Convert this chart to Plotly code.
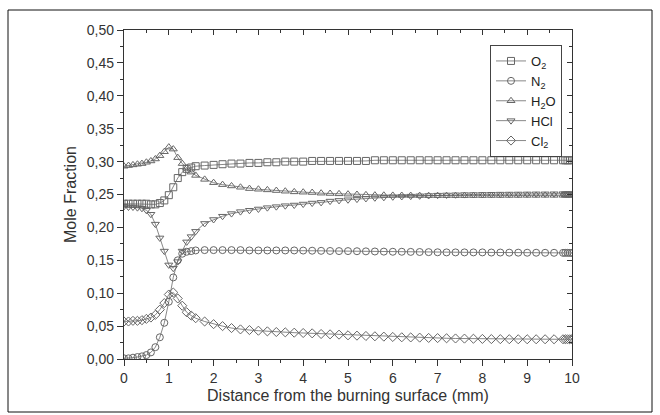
import plotly.graph_objects as go

x = [0.0, 0.1, 0.2, 0.3, 0.4, 0.5, 0.6, 0.7, 0.8, 0.9, 1.0, 1.1, 1.2, 1.3, 1.4, 1.5, 1.6,
     1.8, 2.0, 2.2, 2.4, 2.6, 2.8, 3.0, 3.2, 3.4, 3.6, 3.8, 4.0, 4.2, 4.4, 4.6, 4.8, 5.0,
     5.2, 5.4, 5.6, 5.8, 6.0, 6.2, 6.4, 6.6, 6.8, 7.0, 7.2, 7.4, 7.6, 7.8, 8.0, 8.2, 8.4,
     8.6, 8.8, 9.0, 9.2, 9.4, 9.6, 9.8, 9.85, 9.9, 9.95, 10.0]

o2 = [0.236, 0.236, 0.236, 0.236, 0.236, 0.236, 0.235, 0.235, 0.237, 0.241, 0.249, 0.261, 0.275, 0.284, 0.289, 0.291, 0.293,
      0.294, 0.295, 0.296, 0.297, 0.297, 0.298, 0.298, 0.299, 0.299, 0.300, 0.300, 0.300, 0.301, 0.301, 0.301, 0.301, 0.301,
      0.301, 0.301, 0.302, 0.302, 0.302, 0.302, 0.302, 0.302, 0.302, 0.302, 0.302, 0.302, 0.302, 0.302, 0.302, 0.302, 0.302,
      0.302, 0.302, 0.302, 0.302, 0.302, 0.302, 0.302, 0.302, 0.302, 0.302, 0.302]

n2 = [0.001, 0.001, 0.002, 0.003, 0.004, 0.006, 0.010, 0.018, 0.033, 0.055, 0.087, 0.124, 0.150, 0.160, 0.163, 0.164, 0.165,
      0.1655, 0.1655, 0.1655, 0.1655, 0.1655, 0.165, 0.165, 0.165, 0.165, 0.165, 0.165, 0.1648, 0.1646, 0.1644, 0.1642, 0.164, 0.164,
      0.1638, 0.1636, 0.1634, 0.1632, 0.163, 0.163, 0.1628, 0.1626, 0.1624, 0.1622, 0.162, 0.162, 0.162, 0.162, 0.162, 0.1618, 0.1618,
      0.1616, 0.1616, 0.1615, 0.1615, 0.1614, 0.1614, 0.1613, 0.1613, 0.1613, 0.1612, 0.1612]

h2o = [0.293, 0.294, 0.295, 0.296, 0.297, 0.299, 0.301, 0.304, 0.309, 0.315, 0.322, 0.319, 0.306, 0.297, 0.290, 0.284, 0.279,
       0.273, 0.268, 0.265, 0.263, 0.261, 0.259, 0.258, 0.257, 0.256, 0.255, 0.254, 0.2535, 0.253, 0.252, 0.2515, 0.251, 0.2505,
       0.250, 0.2495, 0.249, 0.2488, 0.2486, 0.2485, 0.2484, 0.2483, 0.2482, 0.2482, 0.2482, 0.2482, 0.2482, 0.2483, 0.2483, 0.2484, 0.2484,
       0.2485, 0.2485, 0.2486, 0.2486, 0.2487, 0.2487, 0.2488, 0.2488, 0.2488, 0.2488, 0.2488]

hcl = [0.232, 0.231, 0.231, 0.230, 0.229, 0.226, 0.220, 0.205, 0.184, 0.164, 0.143, 0.138, 0.148, 0.164, 0.178, 0.186, 0.194,
       0.206, 0.212, 0.217, 0.221, 0.224, 0.226, 0.228, 0.230, 0.2315, 0.233, 0.234, 0.2355, 0.237, 0.238, 0.240, 0.241, 0.242,
       0.243, 0.244, 0.245, 0.2457, 0.2465, 0.247, 0.2475, 0.248, 0.2485, 0.249, 0.2493, 0.2496, 0.2499, 0.250, 0.2502, 0.2504, 0.2506,
       0.2507, 0.2508, 0.2509, 0.251, 0.251, 0.2511, 0.2512, 0.2512, 0.2512, 0.2512, 0.2512]

cl2 = [0.057, 0.057, 0.058, 0.058, 0.059, 0.061, 0.063, 0.067, 0.075, 0.085, 0.098, 0.101, 0.092, 0.081, 0.071, 0.066, 0.062,
       0.057, 0.053, 0.050, 0.047, 0.045, 0.044, 0.043, 0.042, 0.041, 0.0405, 0.040, 0.0395, 0.039, 0.038, 0.0375, 0.037, 0.036,
       0.0355, 0.035, 0.0345, 0.034, 0.0335, 0.033, 0.0328, 0.0325, 0.032, 0.0318, 0.0315, 0.0312, 0.031, 0.0308, 0.0305, 0.0303, 0.0302,
       0.0301, 0.030, 0.030, 0.030, 0.030, 0.030, 0.030, 0.030, 0.030, 0.030, 0.030]

series = [
    ("O<sub>2</sub>", o2, "square-open"),
    ("N<sub>2</sub>", n2, "circle-open"),
    ("H<sub>2</sub>O", h2o, "triangle-up-open"),
    ("HCl", hcl, "triangle-down-open"),
    ("Cl<sub>2</sub>", cl2, "diamond-open"),
]

FONT = "Liberation Sans, Arial, sans-serif"

fig = go.Figure()
for name, ys, sym in series:
    fig.add_trace(go.Scatter(
        x=x, y=ys, name=name, mode="lines+markers",
        line=dict(color="#555555", width=0.7),
        marker=dict(symbol=sym, size=7, color="#666666", line=dict(color="#666666", width=1)),
    ))

# invisible trace to enable the mirrored top/right axes
fig.add_trace(go.Scatter(x=[0, 10], y=[0, 0.5], xaxis="x2", yaxis="y2",
                         mode="markers", marker=dict(opacity=0), showlegend=False, hoverinfo="skip"))

L, R, T, B = 124, 572, 30, 359
W, H = 660, 415

axfont = dict(family=FONT, size=14, color="#333333")
titlefont = dict(family=FONT, size=16, color="#333333")

fig.update_layout(
    width=W, height=H,
    margin=dict(l=L, r=W - R, t=T, b=H - B),
    paper_bgcolor="white", plot_bgcolor="white",
    separators=",.",
    font=dict(family=FONT, color="#333333"),
    showlegend=True,
    legend=dict(
        x=(562 - L) / (R - L), y=(B - 45) / (B - T), xanchor="right", yanchor="top",
        bordercolor="#444444", borderwidth=1, bgcolor="white",
        font=dict(family=FONT, size=13, color="#222222"),
        itemwidth=30, tracegroupgap=0,
    ),
    xaxis=dict(
        range=[0, 10], dtick=1, tick0=0, showgrid=False, zeroline=False,
        showline=True, linecolor="#333333", linewidth=1.3,
        ticks="outside", ticklen=6, tickcolor="#333333", tickwidth=1,
        minor=dict(dtick=0.5, ticks="outside", ticklen=3, tickcolor="#333333", showgrid=False),
        tickfont=axfont,
        title=dict(text="Distance from the burning surface (mm)", font=titlefont, standoff=4),
    ),
    yaxis=dict(
        range=[0, 0.5], dtick=0.05, tick0=0, tickformat=".2f", showgrid=False, zeroline=False,
        showline=True, linecolor="#333333", linewidth=1.3,
        ticks="outside", ticklen=6, tickcolor="#333333", tickwidth=1,
        minor=dict(dtick=0.025, ticks="outside", ticklen=3, tickcolor="#333333", showgrid=False),
        tickfont=axfont,
        title=dict(text="Mole Fraction", font=titlefont, standoff=6),
    ),
    xaxis2=dict(
        overlaying="x", side="top", range=[0, 10], dtick=1, tick0=0, showticklabels=False,
        showgrid=False, zeroline=False, showline=True, linecolor="#333333", linewidth=1.3,
        ticks="inside", ticklen=5, tickcolor="#333333",
        minor=dict(dtick=0.5, ticks="inside", ticklen=3, tickcolor="#333333", showgrid=False),
    ),
    yaxis2=dict(
        overlaying="y", side="right", range=[0, 0.5], dtick=0.05, tick0=0, showticklabels=False,
        showgrid=False, zeroline=False, showline=True, linecolor="#333333", linewidth=1.3,
        ticks="inside", ticklen=5, tickcolor="#333333",
        minor=dict(dtick=0.025, ticks="inside", ticklen=3, tickcolor="#333333", showgrid=False),
    ),
)

# outer frame around the whole figure
fig.add_shape(type="rect", xref="paper", yref="paper",
              x0=(8 - L) / (R - L), x1=(652 - L) / (R - L),
              y0=(B - 412) / (B - T), y1=(B - 10) / (B - T),
              line=dict(color="#111111", width=1), fillcolor="rgba(0,0,0,0)", layer="below")

fig.write_html("out.html", config={"displayModeBar": False},
               post_script="document.body.style.margin='0px';document.body.style.overflow='hidden';")
